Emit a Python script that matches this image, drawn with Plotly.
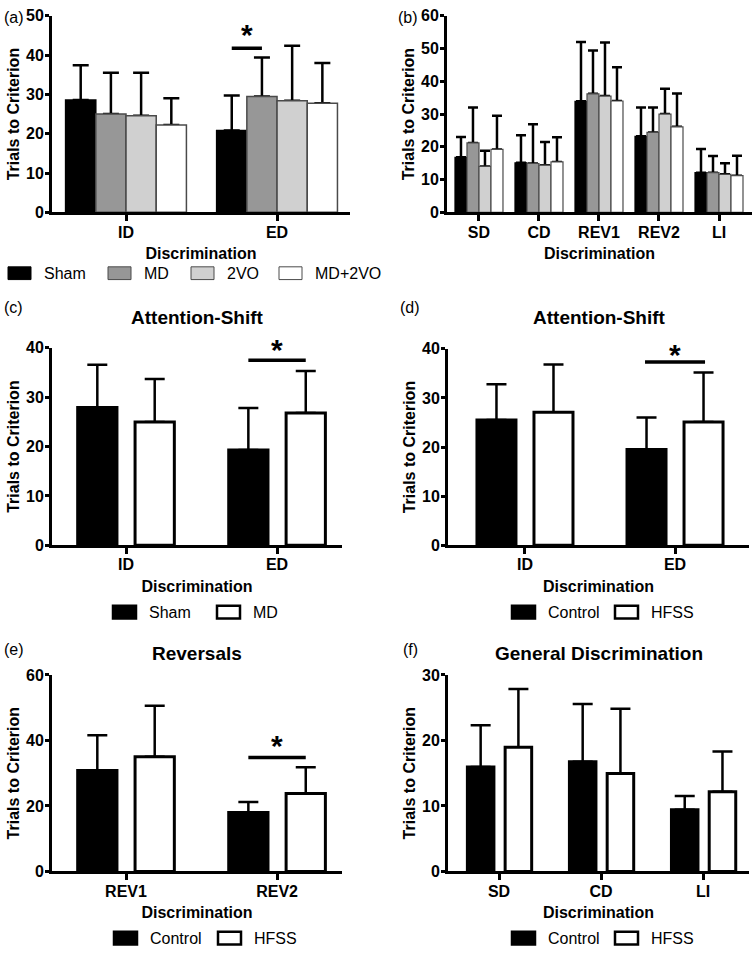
import plotly.graph_objects as go

W, H = 752, 957
FONT = "Liberation Sans, Arial, sans-serif"

# ---------------- data ----------------
a_categories = ["ID", "ED"]
a_groups = ["Sham", "MD", "2VO", "MD+2VO"]
a_sham = [28.6, 20.8]
a_sham_err = [8.8, 8.95]
a_md = [25.0, 29.5]
a_md_err = [10.5, 9.9]
a_2vo = [24.6, 28.4]
a_2vo_err = [10.9, 14.0]
a_md2vo = [22.25, 27.75]
a_md2vo_err = [6.75, 10.25]

b_categories = ["SD", "CD", "REV1", "REV2", "LI"]
b_sham = [16.8, 15.1, 33.9, 23.2, 12.1]
b_sham_err = [6.2, 8.4, 18.1, 8.8, 7.2]
b_md = [21.2, 14.9, 36.2, 24.4, 12.1]
b_md_err = [10.8, 12.0, 13.2, 7.6, 5.1]
b_2vo = [14.0, 14.4, 35.5, 30.0, 11.6]
b_2vo_err = [4.8, 7.1, 16.4, 7.7, 3.4]
b_md2vo = [19.2, 15.4, 34.0, 26.1, 11.2]
b_md2vo_err = [10.3, 7.5, 10.3, 10.2, 6.1]

c_categories = ["ID", "ED"]
c_groups = ["Sham", "MD"]
c_sham = [27.9, 19.3]
c_sham_err = [8.7, 8.5]
c_md = [25.0, 26.8]
c_md_err = [8.7, 8.5]

d_categories = ["ID", "ED"]
d_groups = ["Control", "HFSS"]
d_control = [25.5, 19.5]
d_control_err = [7.3, 6.5]
d_hfss = [27.1, 25.1]
d_hfss_err = [9.7, 10.1]

e_categories = ["REV1", "REV2"]
e_groups = ["Control", "HFSS"]
e_control = [30.8, 18.0]
e_control_err = [10.8, 3.2]
e_hfss = [35.0, 23.8]
e_hfss_err = [15.6, 8.0]

f_categories = ["SD", "CD", "LI"]
f_groups = ["Control", "HFSS"]
f_control = [15.95, 16.75, 9.4]
f_control_err = [6.35, 8.8, 2.1]
f_hfss = [18.95, 14.95, 12.15]
f_hfss_err = [8.9, 9.9, 6.15]

y_title = "Trials to Criterion"
x_title = "Discrimination"
panel_titles = {"c": "Attention-Shift", "d": "Attention-Shift", "e": "Reversals",
                "f": "General Discrimination"}

# ---------------- helpers ----------------
def fx(px):
    return px / W

def fy(py):
    return 1 - py / H

# styles
four_fill = ["#000000", "#979797", "#d0d0d0", "#ffffff"]
four_line = ["#000000", "#4a4a4a", "#4a4a4a", "#4a4a4a"]
two_fill = ["#000000", "#ffffff"]

panels = [
    dict(k="a", cats=a_categories, series=[(a_sham, a_sham_err), (a_md, a_md_err), (a_2vo, a_2vo_err), (a_md2vo, a_md2vo_err)],
         names=a_groups, xd=(52, 350), yd=(8, 208), xr=(-0.49, 1.483), yr=(0, 50), dt=10,
         width=0.2, offs=[-0.4, -0.2, 0.0, 0.2], fills=four_fill, lines=four_line, lw=1.5, cap=8),
    dict(k="b", cats=b_categories, series=[(b_sham, b_sham_err), (b_md, b_md_err), (b_2vo, b_2vo_err), (b_md2vo, b_md2vo_err)],
         names=a_groups, xd=(447, 752), yd=(8, 208), xr=(-0.533, 4.55), yr=(0, 60), dt=10,
         width=0.2, offs=[-0.4, -0.2, 0.0, 0.2], fills=four_fill, lines=four_line, lw=1.2, cap=5),
    dict(k="c", cats=c_categories, series=[(c_sham, c_sham_err), (c_md, c_md_err)],
         names=c_groups, xd=(52, 342), yd=(346, 547), xr=(-0.49, 1.43), yr=(0, 40), dt=10,
         width=0.26, offs=[-0.32, 0.06], fills=two_fill, lines=["#000", "#000"], lw=3, cap=10),
    dict(k="d", cats=d_categories, series=[(d_control, d_control_err), (d_hfss, d_hfss_err)],
         names=d_groups, xd=(448, 749), yd=(347, 547), xr=(-0.513, 1.493), yr=(0, 40), dt=10,
         width=0.26, offs=[-0.32, 0.06], fills=two_fill, lines=["#000", "#000"], lw=3, cap=10),
    dict(k="e", cats=e_categories, series=[(e_control, e_control_err), (e_hfss, e_hfss_err)],
         names=e_groups, xd=(52, 342), yd=(679, 879), xr=(-0.49, 1.43), yr=(0, 60), dt=20,
         width=0.26, offs=[-0.32, 0.06], fills=two_fill, lines=["#000", "#000"], lw=3, cap=10),
    dict(k="f", cats=f_categories, series=[(f_control, f_control_err), (f_hfss, f_hfss_err)],
         names=f_groups, xd=(448, 749), yd=(679, 879), xr=(-0.5, 2.45), yr=(0, 30), dt=10,
         width=0.26, offs=[-0.31, 0.06], fills=two_fill, lines=["#000", "#000"], lw=3, cap=10),
]

# significance markers (between the two bars of a category)
sig = {
    "a": dict(cat=1, x0=-0.3, x1=-0.1, y=41.75, star=45.2),
    "c": dict(cat=1, x0=-0.19, x1=0.19, y=37.5, star=39.6),
    "d": dict(cat=1, x0=-0.2, x1=0.2, y=37.3, star=38.8),
    "e": dict(cat=1, x0=-0.19, x1=0.19, y=34.8, star=38.5),
}

fig = go.Figure()
layout = dict(
    width=W, height=H, margin=dict(l=0, r=0, t=0, b=0),
    paper_bgcolor="white", plot_bgcolor="white",
    showlegend=False, barmode="overlay",
    font=dict(family=FONT, color="black"),
)
shapes, annotations = [], []

for i, p in enumerate(panels):
    n = "" if i == 0 else str(i + 1)
    xa, ya = "x" + n, "y" + n
    cap = p["cap"]
    # error bar carriers first (transparent bars), so the visible bars cover the lower whisker
    for j, (vals, errs) in enumerate(p["series"]):
        fig.add_trace(go.Bar(
            x=p["cats"], y=vals, xaxis=xa, yaxis=ya, width=p["width"], offset=p["offs"][j],
            marker=dict(color="rgba(0,0,0,0)", line=dict(width=0)), hoverinfo="skip",
            error_y=dict(type="data", symmetric=False, array=errs, arrayminus=[0] * len(errs),
                         color="black", thickness=2.5, width=cap),
        ))
    for j, (vals, errs) in enumerate(p["series"]):
        fig.add_trace(go.Bar(
            x=p["cats"], y=vals, xaxis=xa, yaxis=ya, width=p["width"], offset=p["offs"][j],
            name=p["names"][j],
            marker=dict(color=p["fills"][j], line=dict(color=p["lines"][j], width=p["lw"])),
        ))
    layout["xaxis" + n] = dict(
        domain=[fx(p["xd"][0]), fx(p["xd"][1])], anchor=ya, range=list(p["xr"]),
        type="category", showgrid=False, zeroline=False, showline=True, linecolor="black", linewidth=3,
        ticks="outside", ticklen=6, tickwidth=3, tickcolor="black", ticklabelstandoff=-3,
        tickfont=dict(size=16, weight="bold", family=FONT),
        title=dict(text=x_title, font=dict(size=16, weight="bold", family=FONT), standoff=9),
    )
    layout["yaxis" + n] = dict(
        domain=[fy(p["yd"][1]), fy(p["yd"][0])], anchor=xa, range=list(p["yr"]), dtick=p["dt"],
        showgrid=False, zeroline=False, showline=True, linecolor="black", linewidth=3,
        ticks="outside", ticklen=4, tickwidth=3, tickcolor="black", ticklabelstandoff=-2,
        tickfont=dict(size=16, weight="bold", family=FONT),
        title=dict(text=y_title, font=dict(size=16, weight="bold", family=FONT), standoff=3),
    )
    if p["k"] in sig:
        s = sig[p["k"]]
        shapes.append(dict(type="line", xref=xa, yref=ya, x0=s["cat"] + s["x0"], x1=s["cat"] + s["x1"],
                           y0=s["y"], y1=s["y"], line=dict(color="black", width=3.5)))
        annotations.append(dict(xref=xa, yref=ya, x=s["cat"] + (s["x0"] + s["x1"]) / 2, y=s["star"],
                                text="*", showarrow=False, yanchor="middle",
                                font=dict(size=30, weight="bold", family=FONT)))

# panel letters
letters = {"a": (2, 10), "b": (396, 10), "c": (2, 305), "d": (398, 305), "e": (2, 653), "f": (401, 653)}
for k, (px, py) in letters.items():
    annotations.append(dict(xref="paper", yref="paper", x=fx(px), y=fy(py), text="(%s)" % k,
                            showarrow=False, xanchor="left", yanchor="middle", font=dict(size=16, family=FONT)))

# panel titles
title_pos = {"c": (197, 315), "d": (599, 315), "e": (197, 657), "f": (599, 657)}
for k, (px, py) in title_pos.items():
    annotations.append(dict(xref="paper", yref="paper", x=fx(px), y=fy(py), text=panel_titles[k],
                            showarrow=False, xanchor="center", yanchor="middle",
                            font=dict(size=19, weight="bold", family=FONT)))

# legends (swatch + label)
legend_rows = [
    (270, [(8, "Sham", four_fill[0], four_line[0], 1), (108, "MD", four_fill[1], four_line[1], 1),
           (191, "2VO", four_fill[2], four_line[2], 1), (279, "MD+2VO", four_fill[3], four_line[3], 1)]),
    (615, [(113, "Sham", "#000", "#000", 2.5), (217, "MD", "#fff", "#000", 2.5)]),
    (615, [(512, "Control", "#000", "#000", 2.5), (615, "HFSS", "#fff", "#000", 2.5)]),
    (947, [(114, "Control", "#000", "#000", 2.5), (218, "HFSS", "#fff", "#000", 2.5)]),
    (947, [(512, "Control", "#000", "#000", 2.5), (615, "HFSS", "#fff", "#000", 2.5)]),
]
for cy, items in legend_rows:
    for x0, label, fill, line, lw in items:
        shapes.append(dict(type="rect", xref="paper", yref="paper", x0=fx(x0), x1=fx(x0 + 23),
                           y0=fy(cy + 6.5), y1=fy(cy - 6.5), fillcolor=fill, line=dict(color=line, width=lw)))
        annotations.append(dict(xref="paper", yref="paper", x=fx(x0 + 34), y=fy(cy), text=label,
                                showarrow=False, xanchor="left", yanchor="middle", font=dict(size=16, family=FONT)))

layout["shapes"] = shapes
layout["annotations"] = annotations
fig.update_layout(**layout)
fig.write_html("out.html", config={"displayModeBar": False},
               post_script="document.body.style.margin='0';document.body.style.overflow='hidden';")
